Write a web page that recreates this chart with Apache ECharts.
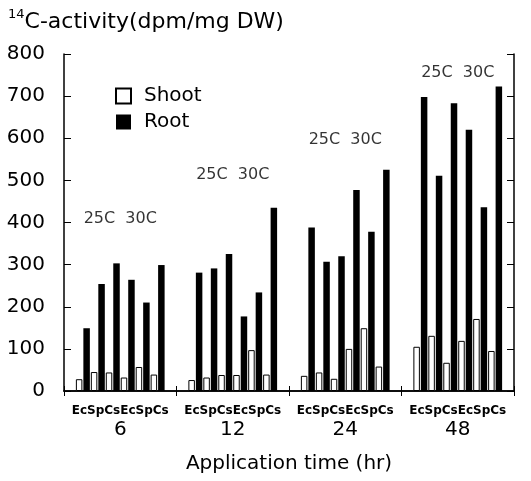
<!DOCTYPE html>
<html>
<head>
<meta charset="utf-8">
<script src="https://cdn.jsdelivr.net/npm/echarts@6/dist/echarts.min.js"></script>
<style>
html,body{margin:0;padding:0;background:#fff;}
#chart{width:531px;height:481px;}
</style>
</head>
<body>
<div id="chart"></div>
<script>
// ---- data ----
var timeCategories = ['6', '12', '24', '48'];
var subLabel = 'EcSpCsEcSpCs';
var tempLabel = '25C  30C';
var yTicks = [0, 100, 200, 300, 400, 500, 600, 700, 800];
// order within each time: Ec25, Sp25, Cs25, Ec30, Sp30, Cs30
var shoot6  = [28, 45, 44, 32, 57, 39];
var shoot12 = [26, 32, 38, 38, 97, 39];
var shoot24 = [36, 44, 29, 100, 149, 58];
var shoot48 = [105, 131, 67, 119, 171, 95];
var root6   = [149, 254, 303, 264, 210, 299];
var root12  = [281, 291, 325, 177, 234, 435];
var root24  = [388, 307, 320, 477, 378, 525];
var root48  = [698, 511, 683, 620, 436, 723];
// height (in data units) of the "25C 30C" annotation for each time group
var tempLabelLevel = [409, 513, 596, 755];

var FONT = 'DejaVu Sans';
var shootByTime = [shoot6, shoot12, shoot24, shoot48];
var rootByTime = [root6, root12, root24, root48];

var series = [];
for (var i = 0; i < 6; i++) {
  series.push({
    name: 'Shoot', type: 'bar', barWidth: 6.5, barGap: '15%',
    itemStyle: {color: '#fff', borderColor: '#000', borderWidth: 1},
    data: shootByTime.map(function (arr) { return arr[i]; })
  });
  series.push({
    name: 'Root', type: 'bar', barWidth: 6.5, barGap: '15%',
    itemStyle: {color: '#000'},
    data: rootByTime.map(function (arr) { return arr[i]; })
  });
}
series.push({
  type: 'scatter', symbolSize: 1, silent: true,
  itemStyle: {color: 'rgba(0,0,0,0)'},
  label: {show: true, position: 'inside', formatter: tempLabel,
          fontFamily: FONT, fontSize: 16, color: '#000'},
  data: timeCategories.map(function (c, k) { return [c, tempLabelLevel[k]]; })
});

var chart = echarts.init(document.getElementById('chart'), null, {renderer: 'canvas'});
chart.setOption({
  animation: false,
  backgroundColor: '#fff',
  title: {
    left: 3, top: 3,
    text: '{sup|14}{main|C-activity(dpm/mg DW)}',
    textStyle: {
      fontWeight: 'normal',
      rich: {
        sup: {fontFamily: FONT, fontSize: 13, fontWeight: 'normal', color: '#000', verticalAlign: 'top', lineHeight: 13},
        main: {fontFamily: FONT, fontSize: 22, fontWeight: 'normal', color: '#000', lineHeight: 28}
      }
    }
  },
  legend: {
    data: ['Shoot', 'Root'], orient: 'vertical', left: 115, top: 86, padding: 0,
    icon: 'rect', itemWidth: 15, itemHeight: 15, itemGap: 6,
    textStyle: {fontFamily: FONT, fontSize: 20, color: '#000', lineHeight: 15, padding: [0, 0, 0, 8]}
  },
  grid: {left: 64, right: 17, top: 54, bottom: 90},
  xAxis: [{
    type: 'category', data: timeCategories, position: 'bottom',
    axisLine: {lineStyle: {color: '#000', width: 1.5}},
    axisTick: {show: true, inside: true, length: 5, lineStyle: {color: '#000'}},
    axisLabel: {
      margin: 12, interval: 0,
      formatter: function (v) { return '{a|' + subLabel + '}\n{b|' + v + '}'; },
      rich: {
        a: {fontFamily: FONT, fontSize: 12, fontWeight: 'bold', color: '#000', lineHeight: 16},
        b: {fontFamily: FONT, fontSize: 20, color: '#000', lineHeight: 22}
      }
    },
    name: 'Application time (hr)', nameLocation: 'middle', nameGap: 63,
    nameTextStyle: {fontFamily: FONT, fontSize: 20, color: '#000'}
  }, {
    type: 'category', data: timeCategories, position: 'top',
    axisLine: {lineStyle: {color: '#000', width: 1.5}},
    axisTick: {show: true, inside: true, length: 5, lineStyle: {color: '#000'}},
    axisLabel: {show: false}
  }],
  yAxis: [{
    type: 'value', min: 0, max: 800, interval: 100, position: 'left',
    axisLine: {show: true, lineStyle: {color: '#000', width: 1.5}},
    axisTick: {show: true, inside: true, length: 7, lineStyle: {color: '#000'}},
    axisLabel: {margin: 19, fontFamily: FONT, fontSize: 20, color: '#000',
                formatter: function (v) { return yTicks.indexOf(v) >= 0 ? String(v) : ''; }},
    splitLine: {show: false}
  }, {
    type: 'value', min: 0, max: 800, interval: 100, position: 'right',
    axisLine: {show: true, lineStyle: {color: '#000', width: 1.5}},
    axisTick: {show: true, inside: true, length: 7, lineStyle: {color: '#000'}},
    axisLabel: {show: false},
    splitLine: {show: false}
  }],
  series: series
});
</script>
</body>
</html>
